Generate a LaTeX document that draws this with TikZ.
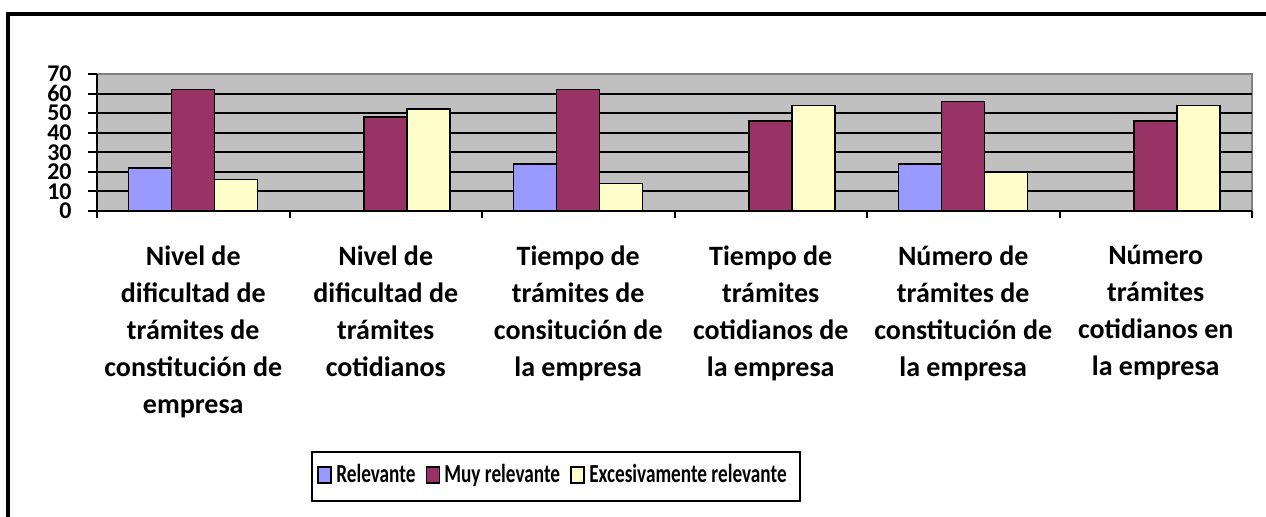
\documentclass[tikz,border=0pt]{standalone}
\usepackage{fontspec}
\setmainfont{Carlito}
\definecolor{relev}{HTML}{9999FF}
\definecolor{muyrel}{HTML}{993366}
\definecolor{excrel}{HTML}{FFFFCC}
\definecolor{plotgray}{HTML}{C0C0C0}
\definecolor{edgegray}{HTML}{808080}

\tikzset{
  bar/.style={draw=black, line width=0.8pt},
  gridline/.style={black, line width=1pt},
  axisline/.style={black, line width=1pt},
  cat/.style={font=\bfseries\fontsize{14}{18.5}\selectfont, align=center, anchor=north, inner sep=0pt},
  ylab/.style={font=\bfseries\fontsize{12}{12}\selectfont, anchor=east, inner sep=0pt},
  legtext/.style={font=\bfseries\fontsize{13}{13}\selectfont, anchor=base west, inner sep=0pt, xscale=0.74},
  swatch/.style={draw=black, line width=0.8pt, minimum width=6.4pt, minimum height=8pt, inner sep=0pt}
}

\begin{document}
\begin{tikzpicture}[x=0.5pt,y=-0.5pt]
\useasboundingbox (0,0) rectangle (1266,517);

% frame
\draw[line width=2pt] (8,517) -- (8,14) -- (1266,14);

% plot area
\fill[plotgray] (97,74) rectangle (1252,211);
\draw[edgegray, line width=1pt] (97,74) -- (1252,74) -- (1252,211);

\begin{scope}[shift={(0,211)}, yscale=-1.957]
% grid
\draw[gridline] (97,10) -- (1252,10);
\draw[gridline] (97,20) -- (1252,20);
\draw[gridline] (97,30) -- (1252,30);
\draw[gridline] (97,40) -- (1252,40);
\draw[gridline] (97,50) -- (1252,50);
\draw[gridline] (97,60) -- (1252,60);

% bars
\draw[bar, fill=relev]  (128.5,0) rectangle (171.5,22);
\draw[bar, fill=muyrel] (171.5,0) rectangle (214.5,62);
\draw[bar, fill=excrel] (214.5,0) rectangle (257.5,16);

\draw[bar, fill=muyrel] (364,0) rectangle (407,48);
\draw[bar, fill=excrel] (407,0) rectangle (450,52);

\draw[bar, fill=relev]  (513.5,0) rectangle (556.5,24);
\draw[bar, fill=muyrel] (556.5,0) rectangle (599.5,62);
\draw[bar, fill=excrel] (599.5,0) rectangle (642.5,14);

\draw[bar, fill=muyrel] (749,0) rectangle (792,46);
\draw[bar, fill=excrel] (792,0) rectangle (835,54);

\draw[bar, fill=relev]  (898.5,0) rectangle (941.5,24);
\draw[bar, fill=muyrel] (941.5,0) rectangle (984.5,56);
\draw[bar, fill=excrel] (984.5,0) rectangle (1027.5,20);

\draw[bar, fill=muyrel] (1134,0) rectangle (1177,46);
\draw[bar, fill=excrel] (1177,0) rectangle (1220,54);

% axes and ticks
\draw[axisline] (97,70) -- (97,0) -- (1252,0);
\draw[axisline] (88,0) -- (97,0);
\draw[axisline] (88,10) -- (97,10);
\draw[axisline] (88,20) -- (97,20);
\draw[axisline] (88,30) -- (97,30);
\draw[axisline] (88,40) -- (97,40);
\draw[axisline] (88,50) -- (97,50);
\draw[axisline] (88,60) -- (97,60);
\draw[axisline] (88,70) -- (97,70);
\end{scope}

\draw[axisline] (97,211) -- (97,218);
\draw[axisline] (289.5,211) -- (289.5,218);
\draw[axisline] (482,211) -- (482,218);
\draw[axisline] (674.5,211) -- (674.5,218);
\draw[axisline] (867,211) -- (867,218);
\draw[axisline] (1059.5,211) -- (1059.5,218);
\draw[axisline] (1252,211) -- (1252,218);

% y labels
\node[ylab] (y0) at (72,211) {0};
\node[ylab] (y10) at (72,191.4) {10};
\node[ylab] (y20) at (72,171.9) {20};
\node[ylab] (y30) at (72,152.3) {30};
\node[ylab] (y40) at (72,132.7) {40};
\node[ylab] (y50) at (72,113.1) {50};
\node[ylab] (y60) at (72,93.6) {60};
\node[ylab] (y70) at (72,74) {70};

% category labels
\node[cat] (c1) at (193.25,245) {Nivel de\\dificultad de\\trámites de\\constitución de\\empresa};
\node[cat] (c2) at (385.75,245) {Nivel de\\dificultad de\\trámites\\cotidianos};
\node[cat] (c3) at (578.25,245) {Tiempo de\\trámites de\\consitución de\\la empresa};
\node[cat] (c4) at (770.75,245) {Tiempo de\\trámites\\cotidianos de\\la empresa};
\node[cat] (c5) at (963.25,245) {Número de\\trámites de\\constitución de\\la empresa};
\node[cat] (c6) at (1155.75,245) {Número\\trámites\\cotidianos en\\la empresa};

% legend
\draw[line width=1pt] (312,452) rectangle (800,501);
\node[swatch, fill=relev] (sRel) at (324.5,475) {};
\node[legtext] (tRel) at (336,483) {Relevante};
\node[swatch, fill=muyrel] (sMuy) at (433,475) {};
\node[legtext] (tMuy) at (444,483) {Muy relevante};
\node[swatch, fill=excrel] (sExc) at (577.5,475) {};
\node[legtext] (tExc) at (589,483) {Excesivamente relevante};
\end{tikzpicture}
\end{document}
